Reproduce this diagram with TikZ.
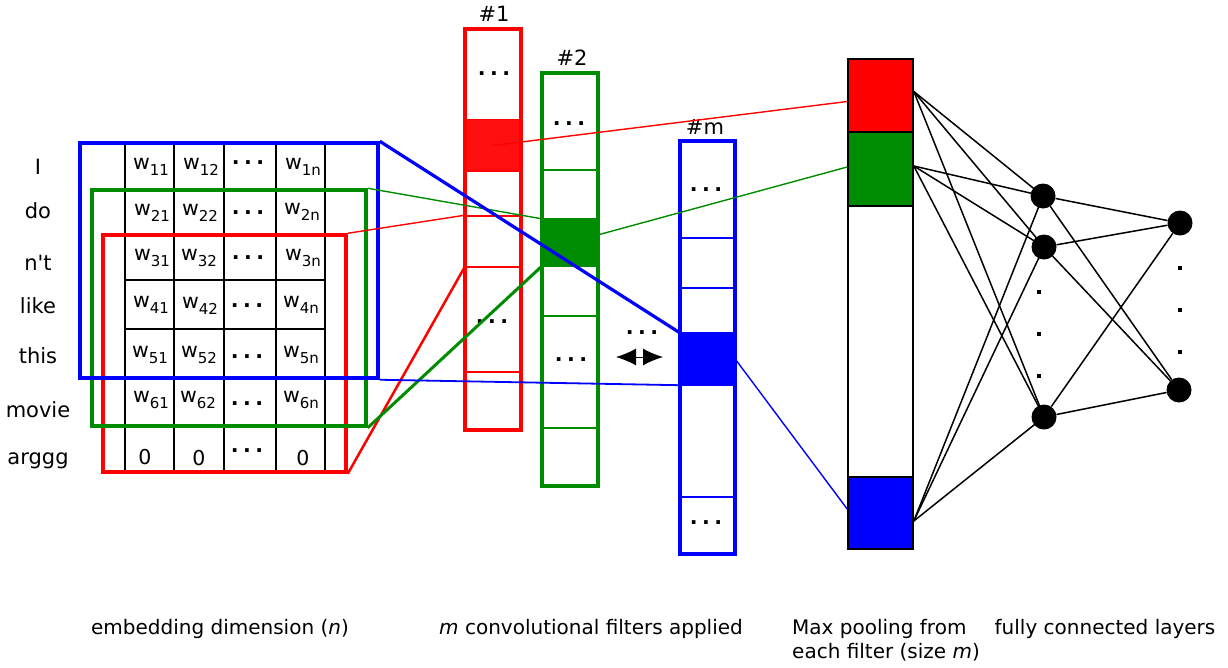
\documentclass[tikz,border=0pt]{standalone}
\usepackage{fontspec}
\setmainfont{DejaVu Sans}
\usetikzlibrary{arrows.meta,calc}

\definecolor{cnnred}{RGB}{255,0,0}
\definecolor{cnnredfill}{RGB}{255,15,15}
\definecolor{cnngreen}{RGB}{0,140,0}
\definecolor{cnnblue}{RGB}{0,0,255}

\newcommand{\dts}{\textbf{.\kern0.22em.\kern0.22em.}}
\newcommand{\wsub}[1]{\raisebox{-0.3em}{\fontsize{15}{15}\selectfont #1}}

\tikzset{
  word/.style={font=\fontsize{21}{25}\selectfont, inner sep=0},
  entry/.style={font=\fontsize{20.5}{24}\selectfont, inner sep=0},
  capt/.style={font=\fontsize{20}{24}\selectfont, inner sep=0},
  win/.style={draw=#1, line width=3.5pt, rectangle, inner sep=0},
  cellbox/.style={draw=#1, line width=1.4pt, rectangle, inner sep=0},
  fillbox/.style={fill=#1, rectangle, inner sep=0},
  filtframe/.style={draw=#1, line width=3.5pt, rectangle, inner sep=0},
  poolbox/.style={draw=black, line width=1.6pt, fill=#1, rectangle, inner sep=0, minimum width=65pt},
  neuron/.style={circle, fill=black, inner sep=0, minimum size=25pt},
  dotsq/.style={rectangle, fill=black, inner sep=0, minimum size=3.5pt},
}

\begin{document}
\begin{tikzpicture}[x=1pt, y=-1pt]
        \useasboundingbox (0,0) rectangle (1228,667);

        % Draw sentence words
        \node[word] (word1) at (38, 167) {I};
        \node[word] (word2) at (38, 211) {do};
        \node[word] (word3) at (38, 263) {n\textquotesingle t};
        \node[word] (word4) at (38, 306) {like};
        \node[word] (word5) at (38, 356) {this};
        \node[word] (word6) at (38, 410) {movie};
        \node[word] (word7) at (38, 461) {arggg};

        % Draw embedding grid
        \draw[line width=1.8pt] (125, 143) -- (125, 472);
        \draw[line width=1.8pt] (174, 143) -- (174, 472);
        \draw[line width=1.8pt] (224, 143) -- (224, 472);
        \draw[line width=1.8pt] (276, 143) -- (276, 472);
        \draw[line width=1.8pt] (325, 143) -- (325, 472);
        \draw[line width=1.4pt] (125, 190) -- (325, 190);
        \draw[line width=1.4pt] (125, 235) -- (325, 235);
        \draw[line width=1.4pt] (125, 280) -- (325, 280);
        \draw[line width=1.4pt] (125, 329) -- (325, 329);
        \draw[line width=1.4pt] (125, 378) -- (325, 378);
        \draw[line width=1.4pt] (125, 426) -- (325, 426);

        \node[entry] (w11) at (151, 167) {w\wsub{11}};
        \node[entry] (w12) at (201, 167) {w\wsub{12}};
        \node[entry] (d1) at (248, 163) {\dts};
        \node[entry] (w1n) at (303, 167) {w\wsub{1n}};
        \node[entry] (w21) at (152, 213) {w\wsub{21}};
        \node[entry] (w22) at (200, 213) {w\wsub{22}};
        \node[entry] (d2) at (248, 213) {\dts};
        \node[entry] (w2n) at (302, 212) {w\wsub{2n}};
        \node[entry] (w31) at (152, 258) {w\wsub{31}};
        \node[entry] (w32) at (199, 258) {w\wsub{32}};
        \node[entry] (d3) at (248, 258) {\dts};
        \node[entry] (w3n) at (303, 258) {w\wsub{3n}};
        \node[entry] (w41) at (151, 305) {w\wsub{41}};
        \node[entry] (w42) at (200, 306) {w\wsub{42}};
        \node[entry] (d4) at (247, 306) {\dts};
        \node[entry] (w4n) at (301, 305) {w\wsub{4n}};
        \node[entry] (w51) at (150, 355) {w\wsub{51}};
        \node[entry] (w52) at (199, 355) {w\wsub{52}};
        \node[entry] (d5) at (247, 357) {\dts};
        \node[entry] (w5n) at (301, 355) {w\wsub{5n}};
        \node[entry] (w61) at (151, 400) {w\wsub{61}};
        \node[entry] (w62) at (198, 400) {w\wsub{62}};
        \node[entry] (d6) at (247, 404) {\dts};
        \node[entry] (w6n) at (301, 400) {w\wsub{6n}};
        \node[entry] (z1) at (145, 457) {0};
        \node[entry] (z2) at (199, 458) {0};
        \node[entry] (d7) at (247, 451) {\dts};
        \node[entry] (zn) at (303, 458) {0};

        % Draw filter windows
        \node[win=cnnred, minimum width=243pt, minimum height=237pt] (winred) at (224.5, 353.5) {};
        \node[win=cnngreen, minimum width=274pt, minimum height=236pt] (wingreen) at (229, 308) {};
        \node[win=cnnblue, minimum width=298pt, minimum height=235pt] (winblue) at (229, 260.5) {};

        % Draw filter #1
        \node[cellbox=cnnred, minimum width=56pt, minimum height=91pt] (f1a) at (493, 74.5) {};
        \node[fillbox=cnnredfill, minimum width=56pt, minimum height=51pt] (f1fill) at (493, 145.5) {};
        \node[cellbox=cnnred, minimum width=56pt, minimum height=45pt] (f1b) at (493, 193.5) {};
        \node[cellbox=cnnred, minimum width=56pt, minimum height=51pt] (f1c) at (493, 241.5) {};
        \node[cellbox=cnnred, minimum width=56pt, minimum height=105pt] (f1d) at (493, 319.5) {};
        \node[cellbox=cnnred, minimum width=56pt, minimum height=58pt] (f1e) at (493, 401) {};
        \node[filtframe=cnnred, minimum width=56pt, minimum height=401pt] (filt1) at (493, 229.5) {};
        \node[entry] (f1dots1) at (494, 74) {\dts};
        \node[entry] (f1dots2) at (492, 322) {\dts};
        \node[word] (lab1) at (494, 14) {\#1};

        % Draw filter #2
        \node[cellbox=cnngreen, minimum width=56pt, minimum height=97pt] (f2a) at (570, 121.5) {};
        \node[cellbox=cnngreen, minimum width=56pt, minimum height=49pt] (f2b) at (570, 194.5) {};
        \node[fillbox=cnngreen, minimum width=56pt, minimum height=47pt] (f2fill) at (570, 242.5) {};
        \node[cellbox=cnngreen, minimum width=56pt, minimum height=50pt] (f2c) at (570, 291) {};
        \node[cellbox=cnngreen, minimum width=56pt, minimum height=112pt] (f2d) at (570, 372) {};
        \node[cellbox=cnngreen, minimum width=56pt, minimum height=58pt] (f2e) at (570, 457) {};
        \node[filtframe=cnngreen, minimum width=56pt, minimum height=413pt] (filt2) at (570, 279.5) {};
        \node[entry] (f2dots1) at (569, 124) {\dts};
        \node[entry] (f2dots2) at (571, 360) {\dts};
        \node[word] (lab2) at (572, 58) {\#2};

        % Draw filter #m
        \node[cellbox=cnnblue, minimum width=55pt, minimum height=97pt] (fma) at (707.5, 189.5) {};
        \node[cellbox=cnnblue, minimum width=55pt, minimum height=50pt] (fmb) at (707.5, 263) {};
        \node[cellbox=cnnblue, minimum width=55pt, minimum height=45pt] (fmc) at (707.5, 310.5) {};
        \node[fillbox=cnnblue, minimum width=55pt, minimum height=52pt] (fmfill) at (707.5, 359) {};
        \node[cellbox=cnnblue, minimum width=55pt, minimum height=112pt] (fmd) at (707.5, 441) {};
        \node[cellbox=cnnblue, minimum width=55pt, minimum height=57pt] (fme) at (707.5, 525.5) {};
        \node[filtframe=cnnblue, minimum width=55pt, minimum height=413pt] (filtm) at (707.5, 347.5) {};
        \node[entry] (fmdots1) at (706, 190) {\dts};
        \node[entry] (fmdots2) at (706, 523) {\dts};
        \node[word] (labm) at (705, 127) {\#m};

        % Filters in between
        \node[entry] (middots) at (642, 333) {\dts};
        \coordinate (arrl) at (616, 357);
        \coordinate (arrr) at (663, 357);
        \draw[line width=1pt, {Latex[length=20pt,width=17pt]}-{Latex[length=20pt,width=17pt]}] (arrl) -- (arrr);

        % Draw window to filter lines
        \draw[cnnred, line width=1.4pt] (winred.north east) -- (f1c.north west);
        \draw[cnnred, line width=2.5pt] (winred.south east) -- (f1c.south west);
        \draw[cnngreen, line width=1.4pt] (wingreen.north east) -- (f2fill.north west);
        \draw[cnngreen, line width=3pt] (wingreen.south east) -- (f2fill.south west);
        \draw[cnnblue, line width=3.2pt] (winblue.north east) -- (fmfill.north west);
        \draw[cnnblue, line width=1.8pt] (winblue.south east) -- (fmfill.south west);

        % Draw max pooling
        \node[poolbox=cnnred, minimum height=73pt] (mpred) at (880.5, 95.5) {};
        \node[poolbox=cnngreen, minimum height=74pt] (mpgreen) at (880.5, 169) {};
        \node[poolbox=white, minimum height=271pt] (mpwhite) at (880.5, 341.5) {};
        \node[poolbox=cnnblue, minimum height=72pt] (mpblue) at (880.5, 513) {};

        % Draw filter to pooling lines
        \draw[cnnred, line width=1.4pt] (f1fill.center) -- ($(mpred.west)+(0,6)$);
        \draw[cnngreen, line width=1.4pt] (f2fill.center) -- ($(mpgreen.west)+(0,-2)$);
        \draw[cnnblue, line width=1.4pt] (fmfill.east) -- ($(mpblue.west)+(0,-4)$);

        % Draw fully connected nodes
        \node[neuron] (h1) at (1043, 196) {};
        \node[neuron] (h2) at (1044, 247) {};
        \node[neuron] (h3) at (1044, 417) {};
        \node[neuron] (o1) at (1180, 223) {};
        \node[neuron] (o2) at (1179, 390) {};
        \node[dotsq] (hd1) at (1039, 292) {};
        \node[dotsq] (hd2) at (1039, 334) {};
        \node[dotsq] (hd3) at (1039, 376) {};
        \node[dotsq] (od1) at (1180, 268) {};
        \node[dotsq] (od2) at (1180, 310) {};
        \node[dotsq] (od3) at (1180, 352) {};

        \coordinate (outr) at ($(mpred.east)+(0,-4)$);
        \coordinate (outg) at ($(mpgreen.east)+(0,-3)$);
        \coordinate (outb) at ($(mpblue.east)+(0,8)$);

        % Draw connections
        \draw[line width=1.5pt] (outr) -- (h1.center);
        \draw[line width=1.5pt] (outr) -- (h2.center);
        \draw[line width=1.5pt] (outr) -- (h3.center);
        \draw[line width=1.5pt] (outg) -- (h1.center);
        \draw[line width=1.5pt] (outg) -- (h2.center);
        \draw[line width=1.5pt] (outg) -- (h3.center);
        \draw[line width=1.5pt] (outb) -- (h1.center);
        \draw[line width=1.5pt] (outb) -- (h2.center);
        \draw[line width=1.5pt] (outb) -- (h3.center);
        \draw[line width=1.5pt] (h1) -- (o1);
        \draw[line width=1.5pt] (h1) -- (o2);
        \draw[line width=1.5pt] (h2) -- (o1);
        \draw[line width=1.5pt] (h2) -- (o2);
        \draw[line width=1.5pt] (h3) -- (o1);
        \draw[line width=1.5pt] (h3) -- (o2);

        % Draw captions
        \node[capt] (capemb) at (220, 629) {embedding dimension (\textit{n})};
        \node[capt] (capconv) at (591, 629) {\textit{m} convolutional filters applied};
        \node[capt, anchor=north west, align=left] (cappool) at (792, 619) {Max pooling from\\each filter (size \textit{m})};
        \node[capt] (capfc) at (1105, 629) {fully connected layers};
    \end{tikzpicture}
\end{document}
